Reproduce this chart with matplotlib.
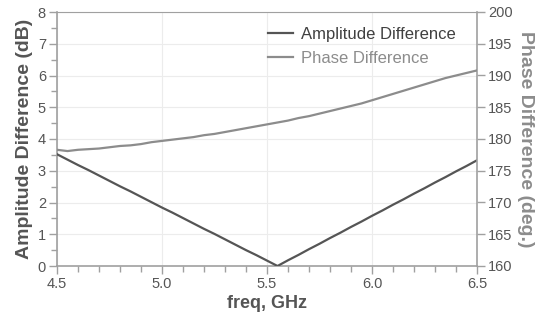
import matplotlib
matplotlib.use("Agg")
import matplotlib.pyplot as plt
from matplotlib.ticker import MultipleLocator

plt.rcParams['font.family'] = ['Liberation Sans', 'DejaVu Sans']

freq = [4.50, 4.55, 4.60, 4.65, 4.70, 4.75, 4.80, 4.85, 4.90, 4.95,
        5.00, 5.05, 5.10, 5.15, 5.20, 5.25, 5.30, 5.35, 5.40, 5.45,
        5.50, 5.55, 5.60, 5.65, 5.70, 5.75, 5.80, 5.85, 5.90, 5.95,
        6.00, 6.05, 6.10, 6.15, 6.20, 6.25, 6.30, 6.35, 6.40, 6.45, 6.50]
amplitude_db = [3.52, 3.35, 3.18, 3.02, 2.85, 2.68, 2.51, 2.35, 2.18, 2.01,
                1.84, 1.68, 1.51, 1.34, 1.17, 1.01, 0.84, 0.67, 0.50, 0.34,
                0.17, 0.00, 0.18, 0.35, 0.53, 0.70, 0.88, 1.05, 1.23, 1.40,
                1.58, 1.75, 1.93, 2.10, 2.28, 2.45, 2.63, 2.80, 2.98, 3.15, 3.33]
phase_deg = [178.3, 178.1, 178.3, 178.4, 178.5, 178.7, 178.9, 179.0, 179.2, 179.5,
             179.7, 179.9, 180.1, 180.3, 180.6, 180.8, 181.1, 181.4, 181.7, 182.0,
             182.3, 182.6, 182.9, 183.3, 183.6, 184.0, 184.4, 184.8, 185.2, 185.6,
             186.1, 186.6, 187.1, 187.6, 188.1, 188.6, 189.1, 189.6, 190.0, 190.4, 190.8]

xticks = [4.5, 5.0, 5.5, 6.0, 6.5]
left_ticks = [0, 1, 2, 3, 4, 5, 6, 7, 8]
right_ticks = [160, 165, 170, 175, 180, 185, 190, 195, 200]

amp_color = '#555555'
phase_color = '#8c8c8c'
spine_color = '#a0a0a0'
tick_text = '#555555'

fig = plt.figure(figsize=(5.4, 3.23), dpi=100)
ax = fig.add_axes([57/540, 1 - 266/323, (477-57)/540, (266-12)/323])
ax2 = ax.twinx()

ax.plot(freq, amplitude_db, color=amp_color, lw=1.6, label='Amplitude Difference', zorder=3)
ax2.plot(freq, phase_deg, color=phase_color, lw=1.6, label='Phase Difference', zorder=3)

ax.set_xlim(4.5, 6.5)
ax.set_ylim(0, 8)
ax2.set_ylim(160, 200)
ax.set_xticks(xticks)
ax.set_xticklabels([f'{v:.1f}' for v in xticks])
ax.set_yticks(left_ticks)
ax2.set_yticks(right_ticks)
ax.xaxis.set_minor_locator(MultipleLocator(0.1))
ax.yaxis.set_minor_locator(MultipleLocator(0.5))

ax.grid(True, which='major', color='#ececec', lw=0.8, zorder=0)
ax.set_axisbelow(True)

for a in (ax, ax2):
    for s in a.spines.values():
        s.set_visible(False)
ax.spines['left'].set_visible(True)
ax.spines['bottom'].set_visible(True)
ax.spines['top'].set_visible(True)
ax2.spines['right'].set_visible(True)
for s in (ax.spines['left'], ax.spines['bottom'], ax.spines['top'], ax2.spines['right']):
    s.set_color(spine_color)
    s.set_linewidth(1.2)
ax.spines['top'].set_linewidth(0.8)

ax.tick_params(axis='both', which='major', direction='out', length=6, width=1,
               color=spine_color, labelsize=10.5, labelcolor=tick_text, pad=2)
ax.tick_params(axis='both', which='minor', direction='out', length=4, width=1,
               color=spine_color)
ax2.tick_params(axis='y', which='major', direction='out', length=6, width=1,
                color=spine_color, labelsize=10.5, labelcolor=tick_text, pad=2)

ax.set_xlabel('freq, GHz', fontsize=13, fontweight='bold', color='#555555', labelpad=3)
ax.set_ylabel('Amplitude Difference (dB)', fontsize=14, fontweight='bold',
              color='#555555', labelpad=3)
ax2.set_ylabel('Phase Difference (deg.)', fontsize=14, fontweight='bold',
               color='#8c8c8c', rotation=270, labelpad=15)

h1, l1 = ax.get_legend_handles_labels()
h2, l2 = ax2.get_legend_handles_labels()
leg = ax2.legend(h1 + h2, l1 + l2, loc='upper right', bbox_to_anchor=(0.985, 1.0),
                 frameon=False, fontsize=12, handlelength=1.5, handletextpad=0.5,
                 labelspacing=0.55)
leg.get_texts()[0].set_color('#404040')
leg.get_texts()[1].set_color('#8c8c8c')

fig.savefig('out.png', dpi=100)
